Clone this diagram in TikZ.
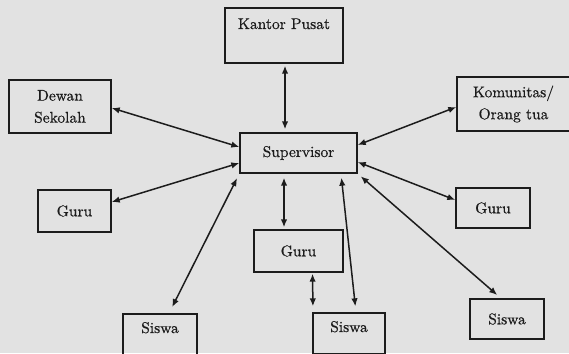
\documentclass[tikz,border=0pt]{standalone}
\usepackage{fontspec}
\setmainfont{lmroman10-regular.otf}[BoldFont=lmroman10-regular.otf, BoldFeatures={FakeBold=0.6}]
\usetikzlibrary{arrows.meta,calc}
\definecolor{bg}{RGB}{226,226,226}
\definecolor{ink}{RGB}{28,28,28}
\begin{document}
\begin{tikzpicture}[x=1pt,y=-1pt,
  box/.style={draw=ink, line width=1.4pt, rectangle, inner sep=0pt,
    font=\fontsize{15.5}{22}\selectfont\bfseries, text=ink, align=center},
  arr/.style={draw=ink, line width=1.5pt,
    {Latex[length=8pt,width=6.5pt]}-{Latex[length=8pt,width=6.5pt]}}]
\fill[bg] (0,0) rectangle (569,353);
\useasboundingbox (0,0) rectangle (569,353);
\clip (0,0) rectangle (569,353);
% boxes
\node[box, minimum width=118pt, minimum height=55pt, text height=21pt, text depth=34pt] (kantor) at (284,35.5) {Kantor Pusat};
\node[box, minimum width=102pt, minimum height=53pt] (dewan) at (60,106.5) {Dewan\\Sekolah};
\node[box, minimum width=113pt, minimum height=54pt] (kom) at (513.5,104) {Komunitas/\\Orang tua};
\node[box, minimum width=117pt, minimum height=40pt] (sup) at (298.5,153) {Supervisor};
\node[box, minimum width=73pt, minimum height=42pt] (guruL) at (74.5,211) {Guru};
\node[box, minimum width=74pt, minimum height=40pt] (guruR) at (493,208) {Guru};
\node[box, minimum width=89pt, minimum height=42pt] (guruC) at (298.5,251) {Guru};
\node[box, minimum width=74pt, minimum height=41pt, text height=19pt, text depth=22pt] (siswaL) at (160,334.5) {Siswa};
\node[box, minimum width=72pt, minimum height=41pt, text height=19pt, text depth=22pt] (siswaC) at (349,333.5) {Siswa};
\node[box, minimum width=74pt, minimum height=40pt] (siswaR) at (507,319) {Siswa};
% connectors
\draw[arr, shorten <=2pt, shorten >=3pt] ([xshift=1pt]kantor.south) -- ([xshift=-13.5pt]sup.north);
\draw[arr] ([yshift=-1.5pt]dewan.east) -- ([yshift=6pt]sup.west);
\draw[arr] ([yshift=-3pt]kom.west) -- ([yshift=8pt]sup.east);
\draw[arr] ([yshift=9pt]guruL.east) -- ([yshift=-10pt]sup.west);
\draw[arr] ([yshift=8pt]guruR.west) -- ([yshift=-9pt]sup.east);
\draw[arr, shorten <=4pt, shorten >=2pt] ([xshift=-14.5pt]sup.south) -- ([xshift=-14.5pt]guruC.north);
\draw[arr, shorten <=5pt, shorten >=7pt] (sup.south west) -- ([xshift=9pt]siswaL.north);
\draw[arr, shorten <=4pt, shorten >=6pt] ([xshift=42.5pt]sup.south) -- ([xshift=7pt]siswaC.north);
\draw[arr, shorten <=4pt, shorten >=5pt] (sup.south east) -- ([xshift=-6pt]siswaR.north);
\draw[arr, shorten <=1pt, shorten >=6pt] ([xshift=14pt]guruC.south) -- ([xshift=-36pt]siswaC.north);
\end{tikzpicture}
\end{document}
